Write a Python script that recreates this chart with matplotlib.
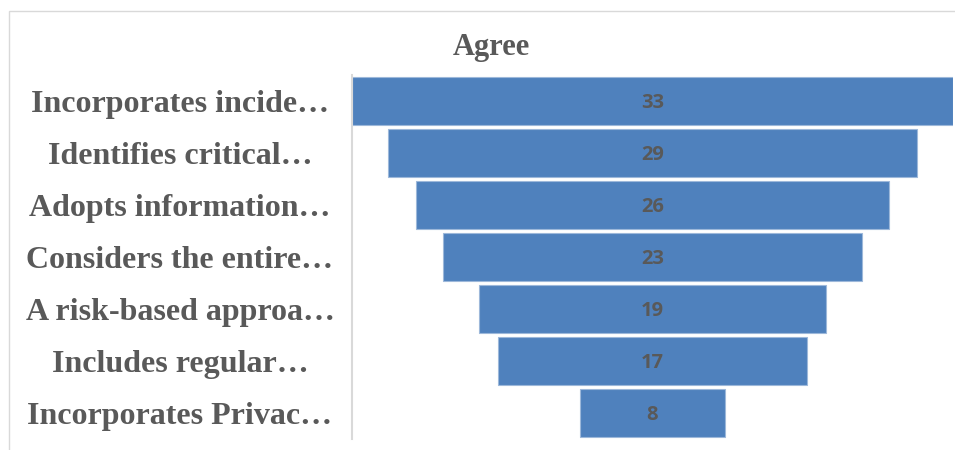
import matplotlib.pyplot as plt
from matplotlib.patches import Rectangle

categories = ["Incorporates incide…", "Identifies critical…", "Adopts information…",
              "Considers the entire…", "A risk-based approa…", "Includes regular…",
              "Incorporates Privac…"]
values = [33, 29, 26, 23, 19, 17, 8]
title = "Agree"

fig = plt.figure(figsize=(9.55, 4.5), dpi=100)
W, H = 955, 450
# figure border (partially clipped)
fig.patches.append(Rectangle((9 / W, -0.1), 1.2, 1 - 11 / H + 0.1, transform=fig.transFigure,
                             fill=False, edgecolor="#D9D9D9", linewidth=1.0))

ax = fig.add_axes([352 / W, 1 - 439 / H, (953 - 352) / W, (439 - 75) / H])
ypos = list(range(len(categories)))
lefts = [-v / 2 for v in values]
bars = ax.barh(ypos, values, left=lefts, height=0.92, color="#4F81BD",
               edgecolor="#9DB8DA", linewidth=0.8)
for y, v in zip(ypos, values):
    ax.text(0, y + 0.04, str(v), ha="center", va="center", color="#595959",
            fontsize=14.5, fontweight="bold", family=["Open Sans", "DejaVu Sans"])

ax.set_xlim(-16.5, 16.5)
ax.set_ylim(6.5, -0.5)
ax.set_xticks([])
ax.set_yticks(ypos)
ax.set_yticklabels(categories, fontsize=23, fontweight="bold",
                   family=["Liberation Serif"], color="#595959")
for lbl in ax.get_yticklabels():
    lbl.set_horizontalalignment("center")
ax.tick_params(axis="y", length=0, pad=(352 - 180) * 0.72)
for s in ["top", "right", "bottom"]:
    ax.spines[s].set_visible(False)
ax.spines["left"].set_color("#D9D9D9")
ax.spines["left"].set_linewidth(1.5)

fig.text(491 / W, 1 - 48 / H, title, ha="center", va="center", fontsize=22,
         fontweight="bold", family=["Liberation Serif"], color="#595959")

fig.savefig("out.png", dpi=100)
